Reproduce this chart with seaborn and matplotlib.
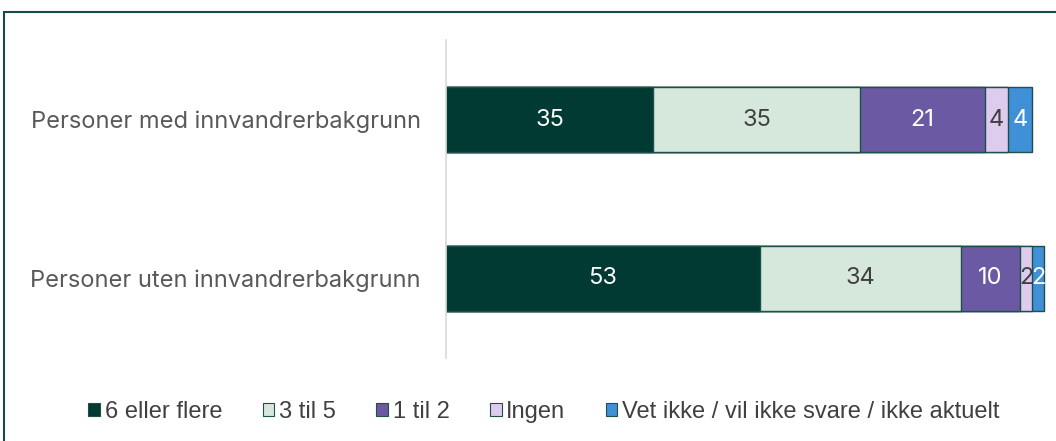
import numpy as np
import pandas as pd
import matplotlib.pyplot as plt
import seaborn as sns
from matplotlib.patches import Rectangle, Patch

# Data
kategorier = ['Personer med innvandrerbakgrunn', 'Personer uten innvandrerbakgrunn']
serier = ['6 eller flere', '3 til 5', '1 til 2', 'Ingen',
          'Vet ikke / vil ikke svare / ikke aktuelt']
seks_eller_flere = [35, 53]
tre_til_fem = [35, 34]
en_til_to = [21, 10]
ingen = [4, 2]
vet_ikke = [4, 2]

farger = ['#003A33', '#D6E8DB', '#6B5AA3', '#DDCCEE', '#4090D8']
tekstfarger = ['white', '#404040', 'white', '#404040', 'white']
kant = '#1E4F4A'

verdier = [seks_eller_flere, tre_til_fem, en_til_to, ingen, vet_ikke]
df = pd.DataFrame({s: v for s, v in zip(serier, verdier)}, index=kategorier)
kum = df.cumsum(axis=1)

sns.set_style('white')
plt.rcParams['font.family'] = ['Inter', 'DejaVu Sans']

fig = plt.figure(figsize=(10.56, 4.41), dpi=100)
ax = fig.add_axes([446 / 1056, 1 - 358 / 441, 1 - 446 / 1056, 318 / 441])

# Stablede stolper: tegn kumulative summer bakfra
for i in range(len(serier) - 1, -1, -1):
    d = pd.DataFrame({'kategori': kategorier, 'verdi': kum.iloc[:, i].values})
    sns.barplot(data=d, y='kategori', x='verdi', color=farger[i], orient='h',
                width=0.41, edgecolor=kant, linewidth=1.0, saturation=1,
                ax=ax)

# Verdietiketter midt i hvert segment
for j, kat in enumerate(kategorier):
    venstre = 0
    for i, s in enumerate(serier):
        v = df.loc[kat, s]
        ax.text(venstre + v / 2, j, f'{v:g}', ha='center', va='center',
                color=tekstfarger[i], fontsize=17)
        venstre += v

ax.set_xlim(0, 610 / 5.92)
ax.set_ylim(1.5, -0.5)
ax.set_xlabel('')
ax.set_ylabel('')
ax.set_xticks([])
ax.tick_params(axis='y', length=0, pad=18, labelsize=17, labelcolor='#595959')
for side in ['top', 'right', 'bottom']:
    ax.spines[side].set_visible(False)
ax.spines['left'].set_color('#D9D9D9')
ax.spines['left'].set_linewidth(1.2)

# Tegnforklaring
handles = [Patch(facecolor=f, edgecolor=kant, linewidth=0.8) for f in farger]
fig.legend(handles, serier, loc='center', bbox_to_anchor=(544 / 1056, 1 - 412 / 441),
           ncol=5, frameon=False, handlelength=0.5, handleheight=0.5,
           handletextpad=0.2, columnspacing=1.7,
           prop={'family': 'Liberation Sans', 'size': 17}, labelcolor='#404040')

# Ramme
fig.patches.append(Rectangle((4 / 1056, -0.1), 1.2, 1 - 12 / 441 + 0.1,
                             transform=fig.transFigure, fill=False,
                             edgecolor='#174C46', linewidth=1.5))

fig.savefig('out.png', dpi=100)
